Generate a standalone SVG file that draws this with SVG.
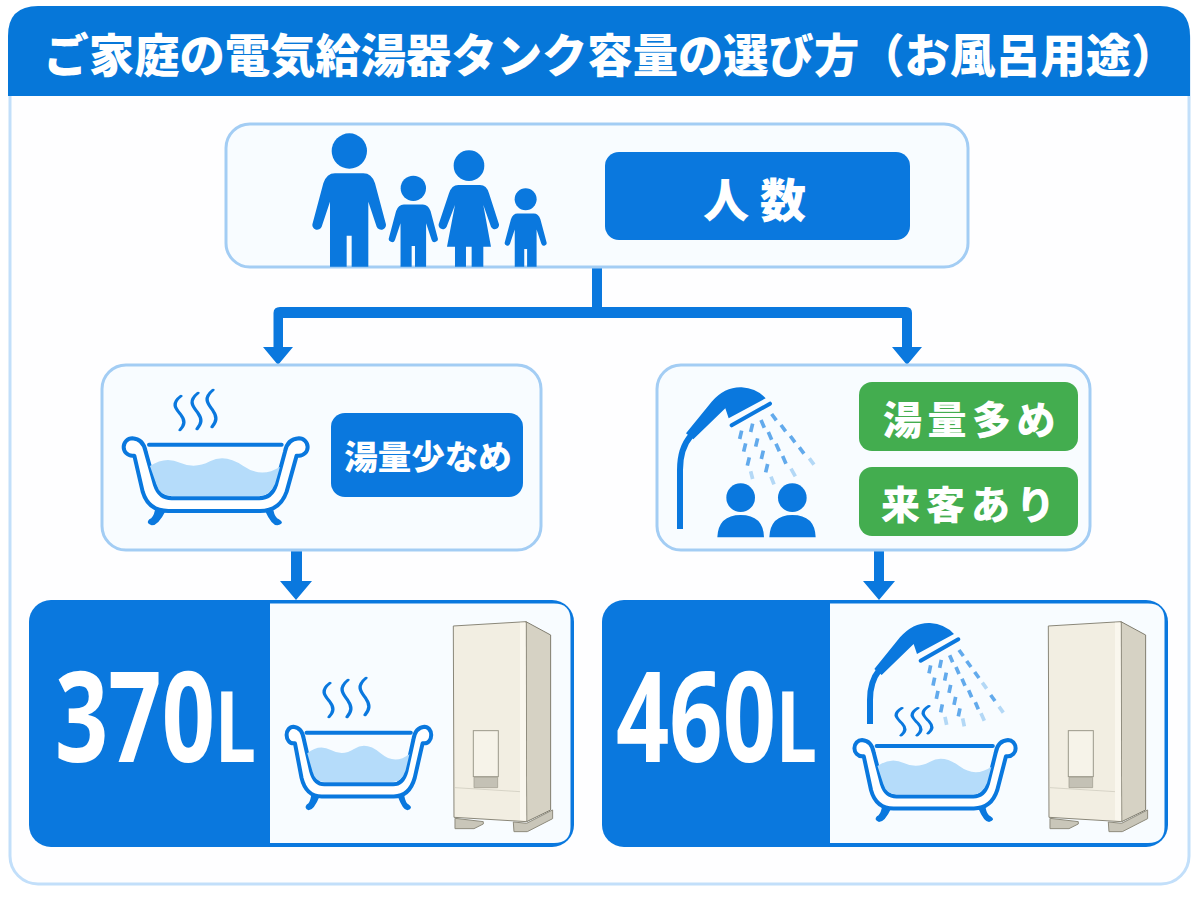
<svg xmlns="http://www.w3.org/2000/svg" xmlns:xlink="http://www.w3.org/1999/xlink" width="1200" height="900" viewBox="0 0 1200 900">
<style>
.b{fill:#0a78de}
.box{fill:#f8fcff;stroke:#a3cdf4;stroke-width:3}
.t{font-family:"Noto Sans CJK JP","Noto Sans",sans-serif;font-weight:900;fill:#fff;text-anchor:middle}
.big{font-family:"Noto Sans",sans-serif;font-weight:700;fill:#fff}
.steam{fill:none;stroke:#0a78de;stroke-width:3.4;stroke-linecap:round}
.rim{stroke:#0a78de;stroke-linecap:round;stroke-width:4;vector-effect:non-scaling-stroke}
.bath{fill:#fff;stroke:#0a78de;stroke-width:4;stroke-linejoin:round;vector-effect:non-scaling-stroke}
.dr{stroke:#62aaec;stroke-width:11;fill:none}
.dl{stroke:#b3d8f6;stroke-width:11;fill:none}
.pipe{fill:none;stroke:#0a78de;stroke-width:18}
</style>
<defs>
<g id="tub">
<path class="b" d="M165,450Q160,474 148,478Q136,490 155,496Q175,496 197,452ZM520,450Q525,474 537,478Q557,490 532,496Q515,496 495,452Z"/>
<path class="bath" d="M165,375Q178,415 215,415H478Q515,415 528,375L555,275Q562,237 597,235A26,26 0 0 1 597,287H590L560,395Q540,453 480,453H205Q145,453 128,395L103,287H97A26,26 0 0 1 97,235Q130,237 137,275Z"/>
<path d="M150,318Q195,288 240,308T330,304T430,318T540,320L525,372Q510,408 478,408H215Q180,408 170,375Z" fill="#b5dcfa"/>
<path d="M147,254H545" class="rim"/>
</g>
<path id="wave" d="M5,0C-6,12 1,20 5,28C9,36 9,42 4,50"/>
<g id="tank">
<path d="M555,625L640,635V642L612,656H555ZM730,636L770,640L848,600V626L772,665H732Z" fill="#c9c6b9" stroke="#8f8c7d" stroke-width="3" stroke-linejoin="round"/>
<path d="M768,35L842,75V600L770,635Z" fill="#d6d2c4" stroke="#7f7c6e" stroke-width="3" stroke-linejoin="round"/>
<path d="M550,48L768,35L770,635L552,622Z" fill="#f2eee2" stroke="#8a8778" stroke-width="3" stroke-linejoin="round"/>
<path d="M750,38H767L769,632L750,630Z" fill="#faf7ee"/>
<path d="M555,533L750,545" stroke="#c9c6b8" stroke-width="2"/>
<rect x="610" y="362" width="75" height="138" fill="#f6f3e9" stroke="#9b988a" stroke-width="3"/>
<path d="M612,502H683V533H612Z" fill="#c4c1b5" stroke="#9b988a" stroke-width="2"/>
</g>
<path id="fig" class="b" d="M105,145H190Q215,145 225,175L257,295A14,14 0 0 1 230,305L205,230V425H155V332H140V425H90V230L65,305A14,14 0 0 1 38,295L70,175Q80,145 105,145Z"/>
<path id="head" class="b" d="M108,220L185,125Q225,80 275,82Q320,85 347,115L236,175L226,145L130,238Z"/>
</defs>
<rect width="1200" height="900" fill="#fff"/>
<g id="frame">
<rect x="10" y="10" width="1179" height="874" rx="28" fill="#fefeff" stroke="#c2dffa" stroke-width="3"/>
<path d="M8,96V36Q8,6 38,6H1160Q1190,6 1190,36V96Z" fill="#0677d9"/>
<text class="t" x="610" y="72" font-size="46" textLength="1133" lengthAdjust="spacingAndGlyphs">ご家庭の電気給湯器タンク容量の選び方（お風呂用途）</text>
</g>
<g id="connectors">
<path class="b" d="M592,266H602V307H906Q912,307 912,313V347H922L907,365L892,347H902V318H283V347H293L278,365L263,347H273.500V313Q273.500,307 280,307H592Z"/>
<path class="b" d="M291,549H302V581H312L296,600L280,581H291Z"/>
<path class="b" d="M874,549H884V581H895L879,600L863,581H874Z"/>
</g>
<g id="node-people">
<rect class="box" x="226" y="124" width="742" height="143" rx="24"/>
<g transform="translate(300,125) scale(.3333)">
<circle class="b" cx="148" cy="78" r="53"/><use href="#fig"/>
<circle class="b" cx="340" cy="190" r="38"/><use href="#fig" transform="translate(241.600,141.500) scale(.667)"/>
<circle class="b" cx="507" cy="122" r="46"/>
<path class="b" d="M475,180H540Q560,180 567,205L596,295A12,12 0 0 1 573,305L550,240L573,365H550V425H515V365H498V425H465V365H441L465,240L440,305A12,12 0 0 1 417,295L447,205Q455,180 475,180Z"/>
<circle class="b" cx="677" cy="223" r="33"/><use href="#fig" transform="translate(593,182.700) scale(.57)"/>
</g>
<rect class="b" x="605" y="152" width="305" height="88" rx="14"/>
<text class="t" x="760" y="217" font-size="46" letter-spacing="11">人数</text>
</g>
<g id="node-low">
<rect class="box" x="102" y="365" width="439" height="185" rx="24"/>
<use href="#tub" transform="translate(100,360) scale(.3333)"/>
<g class="steam"><use href="#wave" transform="translate(176,396) scale(1,.68)"/><use href="#wave" transform="translate(193,393) scale(1,.72)"/><use href="#wave" transform="translate(208,390) scale(1,.74)"/></g>
<rect class="b" x="331" y="413" width="192" height="84" rx="14"/>
<text class="t" x="428" y="469" font-size="33.500">湯量少なめ</text>
</g>
<g id="node-high">
<rect class="box" x="657" y="365" width="433" height="185" rx="24"/>
<g transform="translate(650,360) scale(.3333)">
<path class="pipe" d="M90,507V330Q90,265 122,228"/>
<use href="#head"/>
<path d="M245,196L360,131" class="rim"/>
<path class="dr" d="M275,212l-6,25M287,250l-6,25M298,292l-6,25M308,191l-6,25M323,235l-6,25M340,272l-6,25M353,312l-6,25M333,180l10,23M355,216l10,23M378,251l10,23M398,288l10,23M365,162l14,19M393,195l14,19M421,228l14,19M448,262l14,19"/>
<path class="dl" d="M302,334l6,23M363,350l9,23M423,326l13,23M478,295l14,19"/>
<circle class="b" cx="272" cy="413" r="43"/><circle class="b" cx="427" cy="413" r="43"/>
<path class="b" d="M202,532Q205,465 272,465Q340,465 342,532ZM358,532Q361,465 427,465Q495,465 497,532Z"/>
</g>
<rect x="859" y="382" width="219" height="69" rx="13" fill="#43ad4f"/>
<text class="t" x="972" y="434" font-size="39" letter-spacing="5.500">湯量多め</text>
<rect x="859" y="467" width="219" height="69" rx="13" fill="#43ad4f"/>
<text class="t" x="971" y="519" font-size="39" letter-spacing="6">来客あり</text>
</g>
<g id="node-370">
<rect class="b" x="29" y="600" width="545" height="247" rx="22"/>
<path d="M270,603.500H554Q570.500,603.500 570.500,620V827Q570.500,843 554,843H270Z" fill="#f8fcff"/>
<text class="big" transform="translate(55,762) scale(.74,1)" font-size="126">370<tspan font-size="99">L</tspan></text>
<use href="#tub" transform="translate(268,651.500) scale(.262,.32)"/>
<g class="steam"><use href="#wave" transform="translate(325,683) scale(1,.68)"/><use href="#wave" transform="translate(343,680) scale(1,.74)"/><use href="#wave" transform="translate(361,678) scale(1,.74)"/></g>
<use href="#tank" transform="translate(270,610) scale(.3333)"/>
</g>
<g id="node-460">
<rect class="b" x="602" y="600" width="566" height="247" rx="22"/>
<path d="M830,603.500H1148Q1164.500,603.500 1164.500,620V827Q1164.500,843 1148,843H830Z" fill="#f8fcff"/>
<text class="big" transform="translate(616,762) scale(.74,1)" font-size="126">460<tspan font-size="99">L</tspan></text>
<g transform="translate(830,610) scale(.3333)">
<path class="pipe" d="M120,342V270Q120,215 148,180"/>
<use href="#head" transform="translate(25,-43)"/>
<path d="M272,152L385,88" class="rim"/>
<path class="dr" d="M302,166l-5,24M314,203l-5,24M324,243l-5,24M337,283l-5,24M334,150l-5,24M349,188l-5,24M362,225l-5,24M377,261l-5,24M390,295l-5,24M359,136l9,21M378,171l9,21M396,206l9,21M416,241l9,21M436,277l9,21M387,120l13,18M410,153l13,18M434,186l13,18M482,255l13,18"/>
<path class="dl" d="M345,321l5,24M398,325l5,24M453,310l10,22M457,218l13,18M507,290l13,18"/>
</g>
<use href="#tub" transform="translate(833.700,666.200) scale(.292,.314)"/>
<g class="steam"><use href="#wave" transform="translate(897,708) scale(1,.55)"/><use href="#wave" transform="translate(913,708) scale(1,.55)"/><use href="#wave" transform="translate(924,706) scale(1,.55)"/></g>
<use href="#tank" transform="translate(865,610) scale(.3333)"/>
</g>
</svg>
